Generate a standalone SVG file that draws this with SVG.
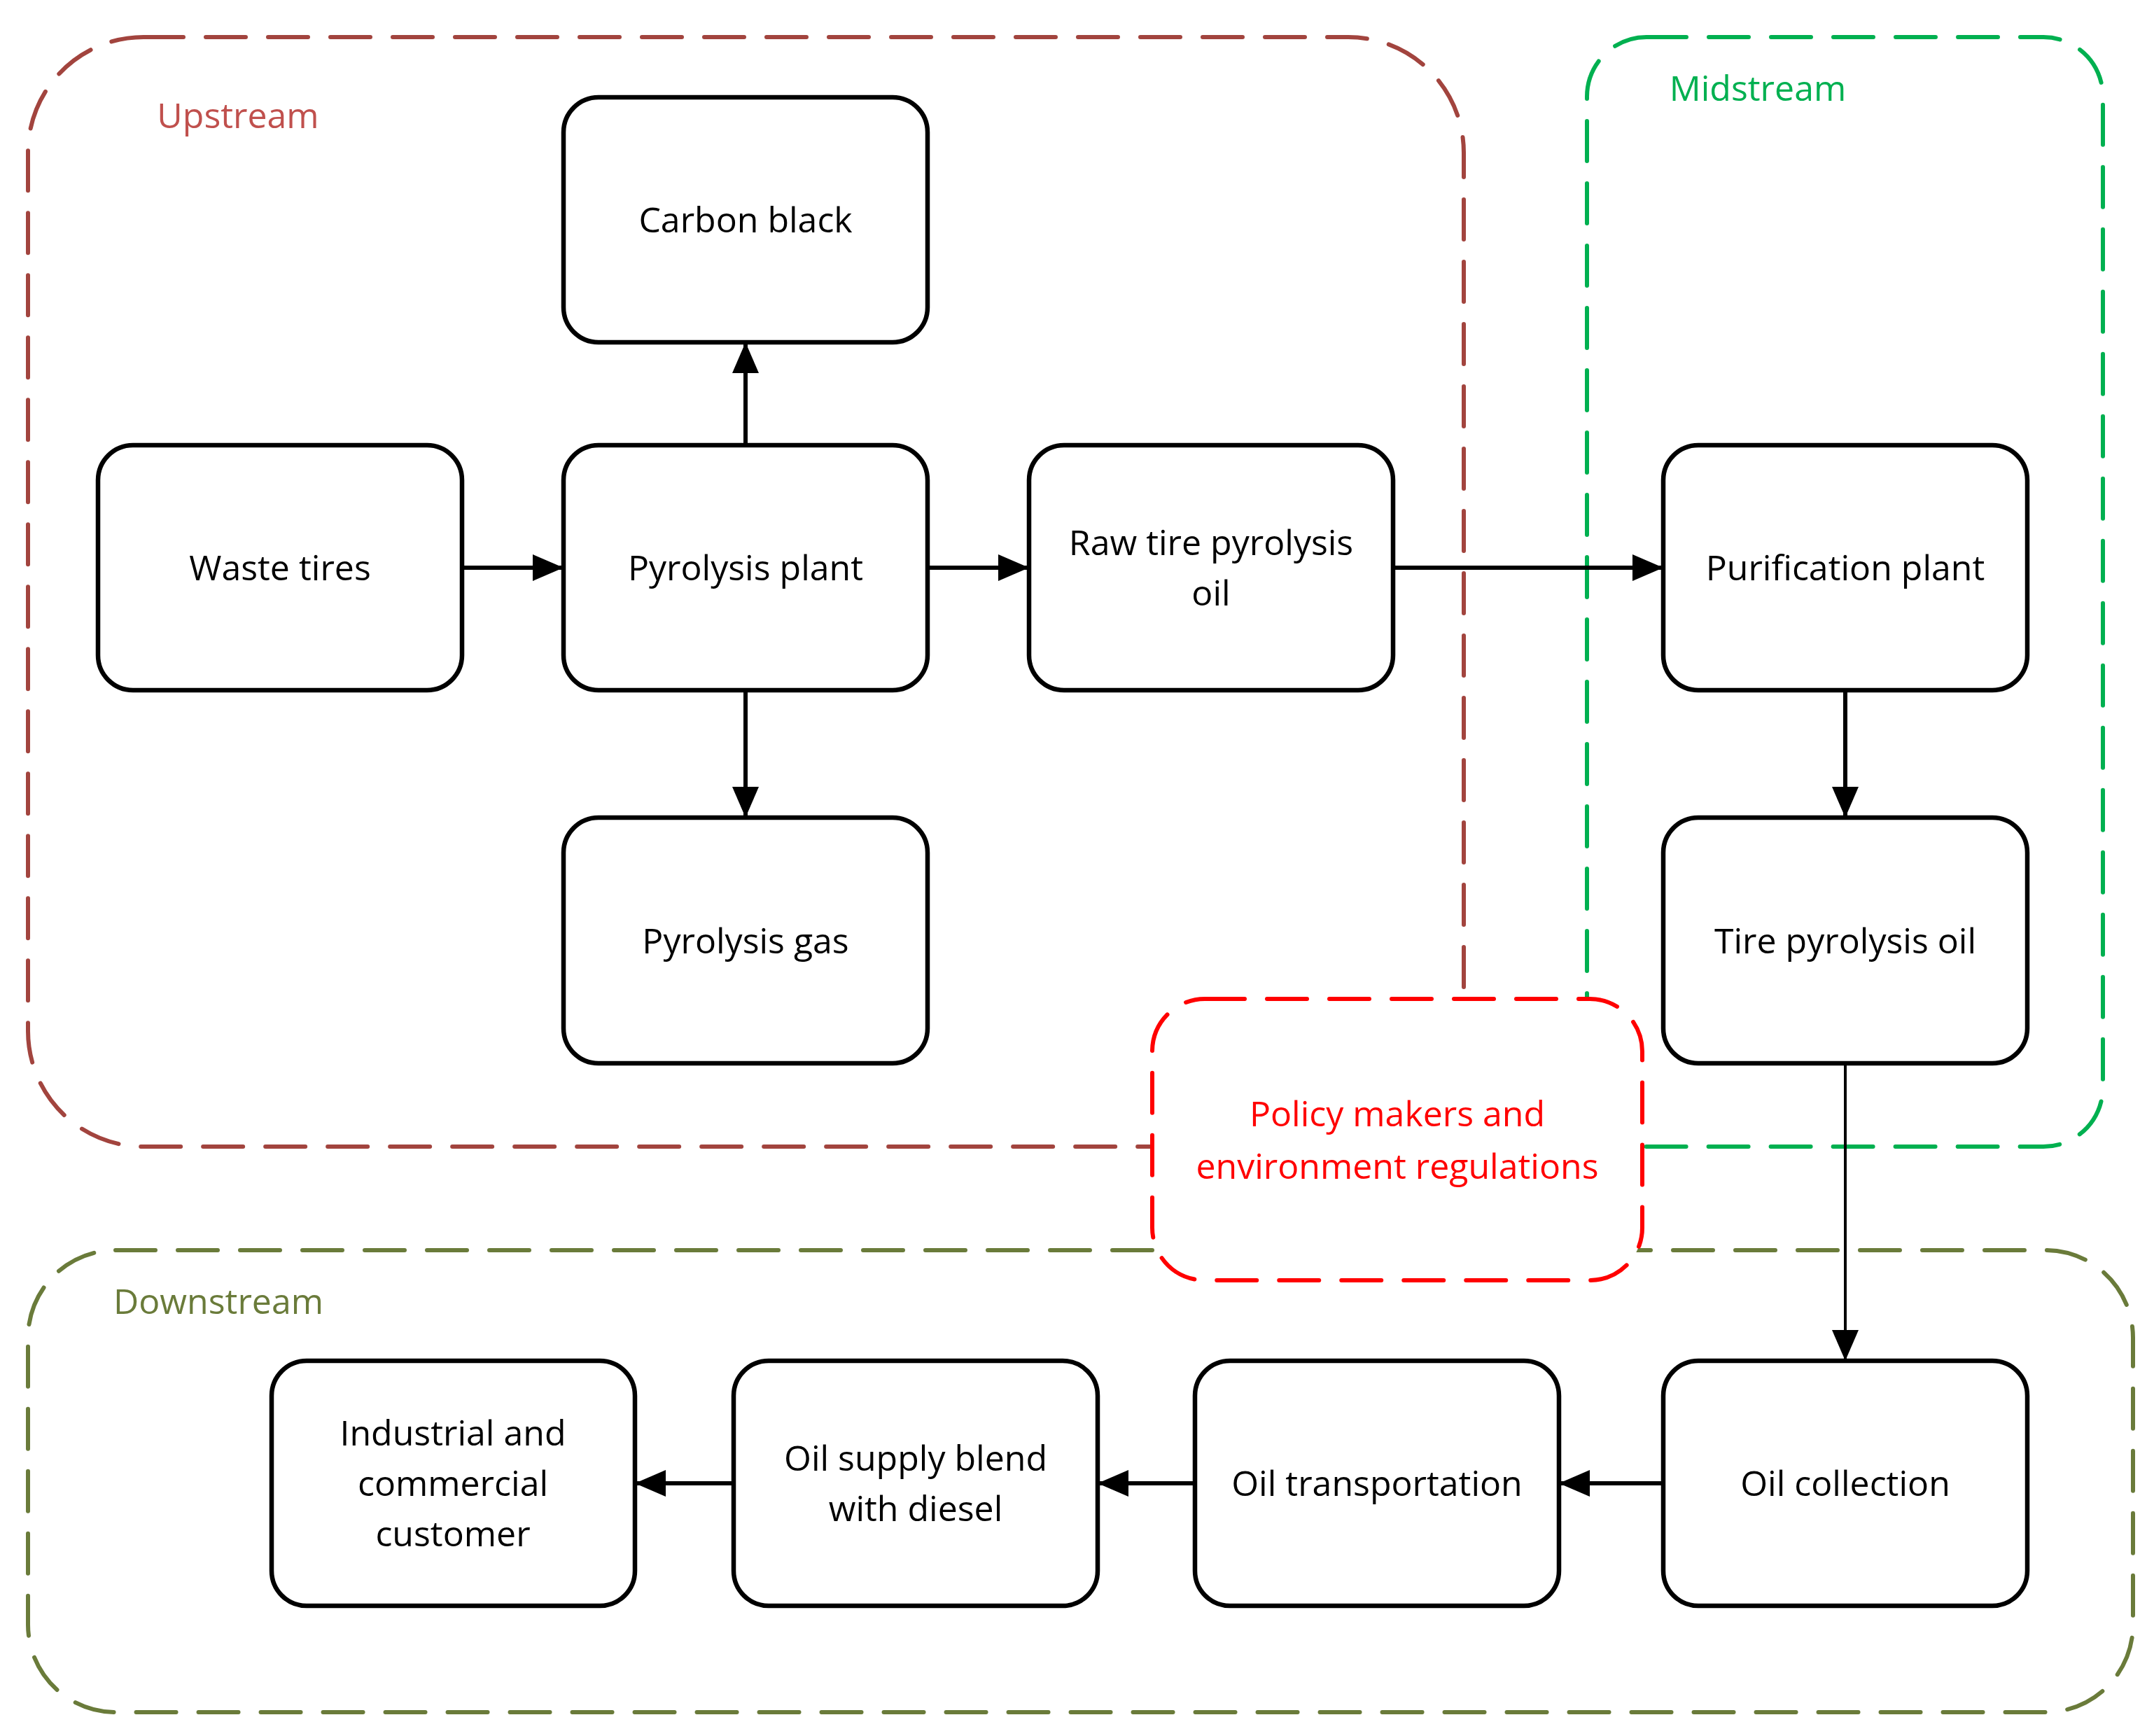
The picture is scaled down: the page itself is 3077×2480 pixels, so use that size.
<svg xmlns="http://www.w3.org/2000/svg" width="3077" height="2480" viewBox="0 0 3077 2480">
<style>
.node rect{fill:#fff;stroke:#000;stroke-width:6.5}
.node text,.lbl{font-family:"Open Sans","Noto Sans",sans-serif;font-size:50px;text-anchor:middle}
.node text{fill:#000}
.grp{fill:none;stroke-width:6;stroke-dasharray:57 32;stroke-linecap:round}
.conn line{stroke:#000;stroke-width:6}
</style>
<defs>
<marker id="ah" markerUnits="userSpaceOnUse" markerWidth="46" markerHeight="42" viewBox="0 0 46 42" refX="44" refY="21" orient="auto">
<path d="M0,2 L44,21 L0,40 Z" fill="#000"/>
</marker>
</defs>
<rect width="3077" height="2480" fill="#fff"/>
<g id="upstream">
<rect class="grp" x="40" y="53" width="2051" height="1585" rx="165" ry="165" stroke="#A2443E"/>
<text class="lbl" x="340" y="183" fill="#C0504D">Upstream</text>
</g>
<g id="midstream">
<rect class="grp" x="2267" y="53" width="737" height="1585" rx="85" ry="85" stroke="#00B050"/>
<text class="lbl" x="2511" y="144" fill="#00B050">Midstream</text>
</g>
<g id="downstream">
<rect class="grp" x="40" y="1786" width="3007" height="660" rx="125" ry="125" stroke="#6A7B3A"/>
<text class="lbl" x="312" y="1877" fill="#6A7B3A">Downstream</text>
</g>
<g id="policy">
<rect x="1646" y="1427" width="700" height="402" rx="75" ry="75" fill="#fff" stroke="#FF0000" stroke-width="6" stroke-dasharray="57 32" stroke-linecap="round"/>
<text class="lbl" x="1996" y="1609" fill="#FF0000">Policy makers and</text>
<text class="lbl" x="1996" y="1684" fill="#FF0000">environment regulations</text>
</g>
<g id="carbon-black" class="node"><rect x="805" y="139" width="520" height="350" rx="50"/><text x="1065" y="332">Carbon black</text></g>
<g id="waste-tires" class="node"><rect x="140" y="636" width="520" height="350" rx="50"/><text x="400" y="829">Waste tires</text></g>
<g id="pyrolysis-plant" class="node"><rect x="805" y="636" width="520" height="350" rx="50"/><text x="1065" y="829">Pyrolysis plant</text></g>
<g id="raw-oil" class="node"><rect x="1470" y="636" width="520" height="350" rx="50"/><text x="1730" y="793">Raw tire pyrolysis</text><text x="1730" y="865">oil</text></g>
<g id="pyrolysis-gas" class="node"><rect x="805" y="1168" width="520" height="351" rx="50"/><text x="1065" y="1362">Pyrolysis gas</text></g>
<g id="purification" class="node"><rect x="2376" y="636" width="520" height="350" rx="50"/><text x="2636" y="829">Purification plant</text></g>
<g id="tire-oil" class="node"><rect x="2376" y="1168" width="520" height="351" rx="50"/><text x="2636" y="1362">Tire pyrolysis oil</text></g>
<g id="oil-collection" class="node"><rect x="2376" y="1944" width="520" height="350" rx="50"/><text x="2636" y="2137">Oil collection</text></g>
<g id="oil-transport" class="node"><rect x="1707" y="1944" width="520" height="350" rx="50"/><text x="1967" y="2137">Oil transportation</text></g>
<g id="oil-blend" class="node"><rect x="1048" y="1944" width="520" height="350" rx="50"/><text x="1308" y="2101">Oil supply blend</text><text x="1308" y="2173">with diesel</text></g>
<g id="customer" class="node"><rect x="388" y="1944" width="519" height="350" rx="50"/><text x="647" y="2065">Industrial and</text><text x="647" y="2137">commercial</text><text x="647" y="2209">customer</text></g>
<g id="connectors" class="conn">
<line x1="660" y1="811" x2="805" y2="811" marker-end="url(#ah)"/>
<line x1="1065" y1="636" x2="1065" y2="489" marker-end="url(#ah)"/>
<line x1="1065" y1="986" x2="1065" y2="1168" marker-end="url(#ah)"/>
<line x1="1325" y1="811" x2="1470" y2="811" marker-end="url(#ah)"/>
<line x1="1990" y1="811" x2="2376" y2="811" marker-end="url(#ah)"/>
<line x1="2636" y1="986" x2="2636" y2="1168" marker-end="url(#ah)"/>
<line x1="2636" y1="1519" x2="2636" y2="1944" style="stroke-width:4" marker-end="url(#ah)"/>
<line x1="2376" y1="2119" x2="2227" y2="2119" marker-end="url(#ah)"/>
<line x1="1707" y1="2119" x2="1568" y2="2119" marker-end="url(#ah)"/>
<line x1="1048" y1="2119" x2="907" y2="2119" marker-end="url(#ah)"/>
</g>
</svg>
